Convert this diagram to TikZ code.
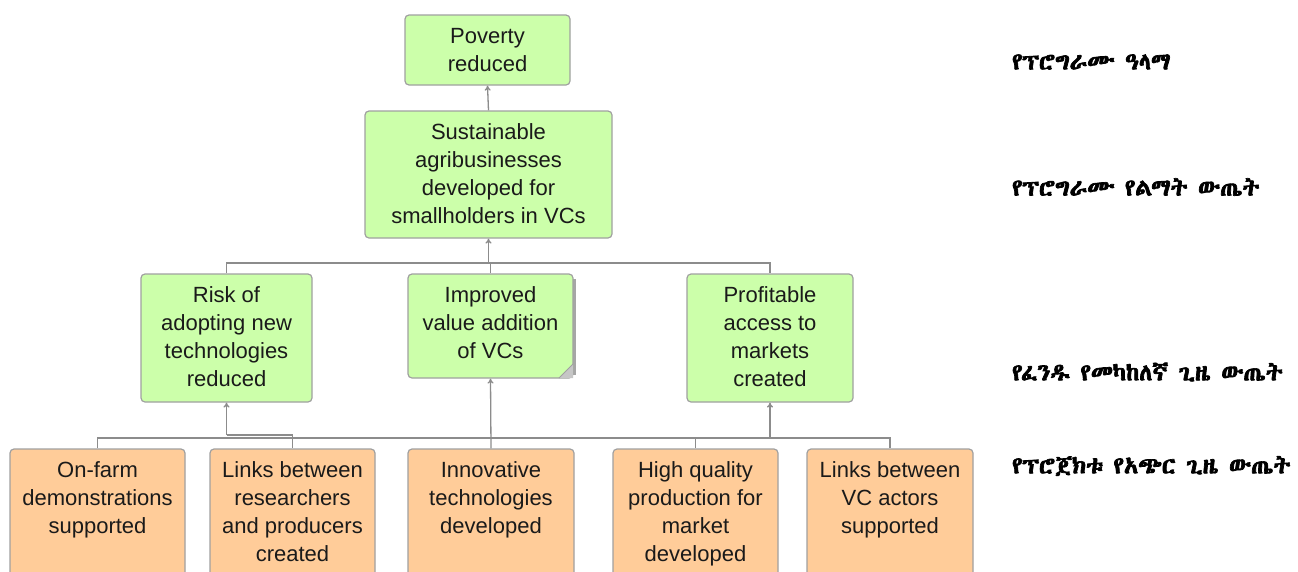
\documentclass[tikz,border=0pt]{standalone}
\usepackage{fontspec}
\setmainfont{Liberation Sans}
\IfFontExistsTF{Abyssinica SIL}{\newfontfamily\ethfont[AutoFakeBold=3]{Abyssinica SIL}}{%
 \IfFontExistsTF{FreeSerif.otf}{\newfontfamily\ethfont[AutoFakeBold=3]{FreeSerif.otf}}{%
  \IfFontExistsTF{FreeSerif}{\newfontfamily\ethfont[AutoFakeBold=3]{FreeSerif}}{\newfontfamily\ethfont[AutoFakeBold=3]{DejaVu Sans}}}}
\usetikzlibrary{arrows.meta}
\definecolor{boxgreen}{HTML}{CCFFAA}
\definecolor{boxorange}{HTML}{FFCC99}
\definecolor{boxborder}{HTML}{A0A0A0}
\definecolor{linegrey}{HTML}{8C8C8C}
\definecolor{txt}{HTML}{1A1A1A}
\newcommand\bx[3]{\parbox[c][#2pt][t]{#1pt}{\centering\vspace*{9pt}\strut #3}}
\tikzset{
  basebox/.style={draw=boxborder, line width=1.2pt, rounded corners=4pt, inner sep=0pt,
     text=txt, font=\fontsize{22}{28}\selectfont},
  gbox/.style={basebox, fill=boxgreen},
  obox/.style={basebox, fill=boxorange},
  conn/.style={draw=linegrey, line width=1.3pt},
  arr/.style={conn, -{To[length=5pt,width=6pt]}},
  lab/.style={anchor=west, inner sep=0pt, text=black, font=\ethfont\bfseries\fontsize{23.5}{26}\selectfont}
}
\begin{document}
\begin{tikzpicture}[x=1pt,y=-1pt]
\useasboundingbox (0,0) rectangle (1298,571);
\clip (0,0) rectangle (1298,571);
\fill[white] (0,0) rectangle (1298,571);
% level 1 and 2
\node[gbox] (pov) at (487.5,50) {\bx{165}{70}{Poverty\\reduced}};
\node[gbox] (sus) at (488.5,174.5) {\bx{247}{127}{Sustainable\\agribusinesses\\developed for\\smallholders in VCs}};
% level 3
\node[gbox] (risk) at (226.5,338) {\bx{171}{128}{Risk of\\adopting new\\technologies\\reduced}};
\fill[gray!70] (571,279) rectangle (576,375);
\node[gbox] (imp) at (490.5,326) {\bx{165}{104}{Improved\\value addition\\of VCs}};
\fill[gray!45] (559,378) -- (573,364) -- (573,378) -- cycle;
\draw[boxborder, line width=0.8pt] (559,378) -- (573,364);
\node[gbox] (prof) at (770,338) {\bx{166}{128}{Profitable\\access to\\markets\\created}};
% level 4
\node[obox] (onfarm) at (97.5,519) {\bx{175}{140}{On-farm\\demonstrations\\supported}};
\node[obox] (linkr) at (292.5,519) {\bx{165}{140}{Links between\\researchers\\and producers\\created}};
\node[obox] (innov) at (491,519) {\bx{166}{140}{Innovative\\technologies\\developed}};
\node[obox] (highq) at (695.5,519) {\bx{165}{140}{High quality\\production for\\market\\developed}};
\node[obox] (linkvc) at (890,519) {\bx{166}{140}{Links between\\VC actors\\supported}};
% junction coordinates
\coordinate (tb) at (488.5,263);
\coordinate (bb) at (491,438);
\coordinate (bb2) at (260,435);
% connectors top
\draw[arr] (sus.north) -- (pov.south);
\draw[conn] (risk.north) |- (tb) -| (prof.north);
\draw[conn] (imp.north) -- (imp.north |- tb);
\draw[arr] (tb) -- (sus.south);
% connectors bottom
\draw[conn] (onfarm.north) |- (bb) -| (linkvc.north);
\draw[conn] (risk.south |- bb2) -| (linkr.north);
\draw[conn] (highq.north) -- (highq.north |- bb);
\draw[arr] (risk.south |- bb2) -- (risk.south);
\draw[arr] (innov.north) -- (imp.south);
\draw[arr] (prof.south |- bb) -- (prof.south);
% labels
\node[lab] (l1) at (1012,62) {የፕሮግራሙ ዓላማ};
\node[lab] (l2) at (1012,187) {የፕሮግራሙ የልማት ውጤት};
\node[lab] (l3) at (1012,372) {የፈንዱ የመካከለኛ ጊዜ ውጤት};
\node[lab] (l4) at (1012,466) {የፕሮጀክቱ የአጭር ጊዜ ውጤት};
\end{tikzpicture}
\end{document}
